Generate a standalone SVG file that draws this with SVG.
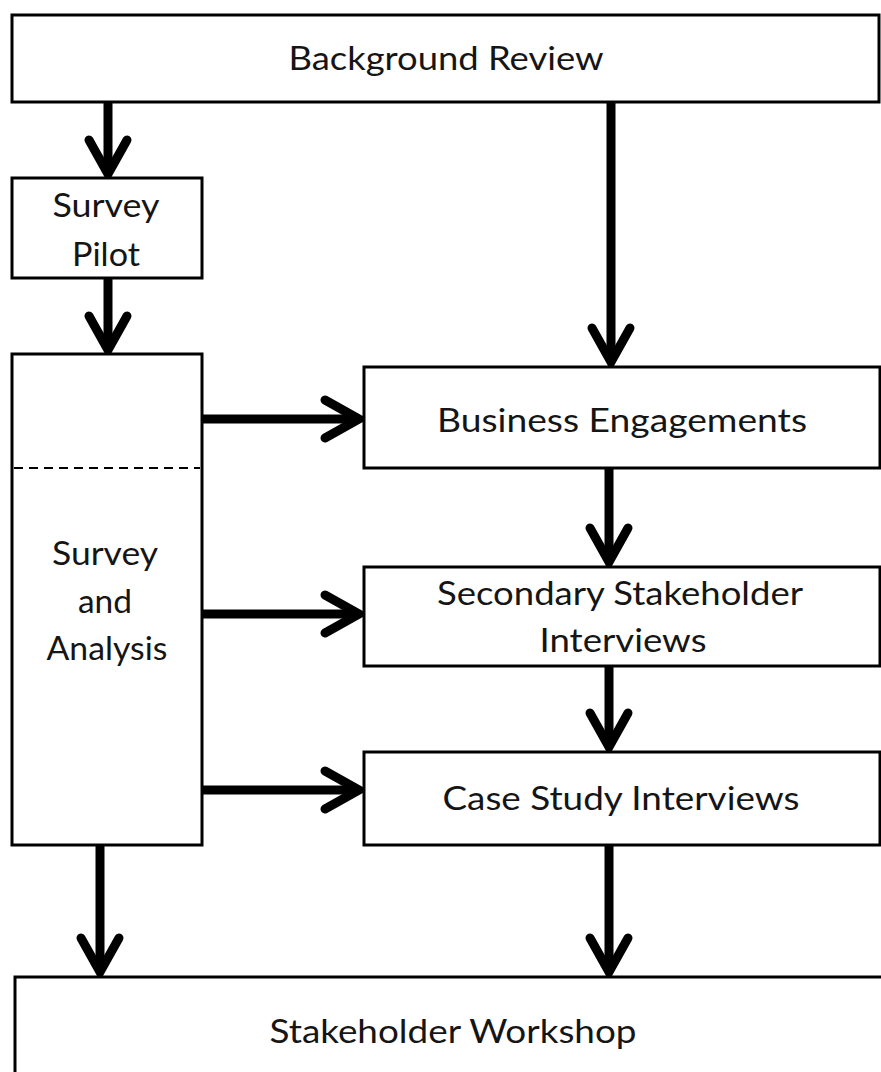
<svg xmlns="http://www.w3.org/2000/svg" width="881" height="1072" viewBox="0 0 881 1072">
<style>
.box{fill:#fff;stroke:#000;stroke-width:3}
.lbl{font-family:Lato,"Liberation Sans",sans-serif;font-size:33px;fill:#151515;text-anchor:middle}
.wire{stroke:#000;stroke-width:9;fill:none}
.dash{stroke:#000;stroke-width:2;stroke-dasharray:9 6}
</style>
<defs>
<marker id="chev" markerUnits="userSpaceOnUse" viewBox="-45 -30 60 60" refX="0" refY="0" markerWidth="60" markerHeight="60" orient="auto" overflow="visible">
<path d="M -34 -19 L 0 0 L -34 19" fill="none" stroke="#000" stroke-width="9" stroke-linecap="round" stroke-linejoin="miter"/>
</marker>
</defs>
<g id="connectors">
<line class="wire" x1="108" y1="102" x2="108" y2="174" marker-end="url(#chev)"/>
<line class="wire" x1="108" y1="278" x2="108" y2="350" marker-end="url(#chev)"/>
<line class="wire" x1="611" y1="102" x2="611" y2="362" marker-end="url(#chev)"/>
<line class="wire" x1="203" y1="419" x2="359" y2="419" marker-end="url(#chev)"/>
<line class="wire" x1="203" y1="614" x2="359" y2="614" marker-end="url(#chev)"/>
<line class="wire" x1="203" y1="790" x2="359" y2="790" marker-end="url(#chev)"/>
<line class="wire" x1="609" y1="468" x2="609" y2="562" marker-end="url(#chev)"/>
<line class="wire" x1="609" y1="666" x2="609" y2="747" marker-end="url(#chev)"/>
<line class="wire" x1="609" y1="845" x2="609" y2="972" marker-end="url(#chev)"/>
<line class="wire" x1="100" y1="845" x2="100" y2="972" marker-end="url(#chev)"/>
</g>
<g id="background-review">
<rect class="box" x="12" y="15" width="867" height="87"/>
<text class="lbl" x="446" y="70" textLength="315" lengthAdjust="spacingAndGlyphs">Background Review</text>
</g>
<g id="survey-pilot">
<rect class="box" x="12" y="178" width="190" height="100"/>
<text class="lbl" x="106" y="217" textLength="107" lengthAdjust="spacingAndGlyphs">Survey</text>
<text class="lbl" x="106" y="266" textLength="68" lengthAdjust="spacingAndGlyphs">Pilot</text>
</g>
<g id="survey-analysis">
<rect class="box" x="12" y="354" width="190" height="491"/>
<line class="dash" x1="14" y1="468" x2="200" y2="468"/>
<text class="lbl" x="105" y="565" textLength="106" lengthAdjust="spacingAndGlyphs">Survey</text>
<text class="lbl" x="105" y="613" textLength="54" lengthAdjust="spacingAndGlyphs">and</text>
<text class="lbl" x="107" y="660" textLength="121" lengthAdjust="spacingAndGlyphs">Analysis</text>
</g>
<g id="business-engagements">
<rect class="box" x="364" y="367" width="516" height="101"/>
<text class="lbl" x="622" y="432" textLength="370" lengthAdjust="spacingAndGlyphs">Business Engagements</text>
</g>
<g id="secondary-stakeholder-interviews">
<rect class="box" x="364" y="567" width="516" height="99"/>
<text class="lbl" x="620" y="605" textLength="366" lengthAdjust="spacingAndGlyphs">Secondary Stakeholder</text>
<text class="lbl" x="623" y="652" textLength="167" lengthAdjust="spacingAndGlyphs">Interviews</text>
</g>
<g id="case-study-interviews">
<rect class="box" x="364" y="752" width="516" height="93"/>
<text class="lbl" x="621" y="810" textLength="357" lengthAdjust="spacingAndGlyphs">Case Study Interviews</text>
</g>
<g id="stakeholder-workshop">
<rect class="box" x="15" y="977" width="880" height="120"/>
<text class="lbl" x="453" y="1043" textLength="367" lengthAdjust="spacingAndGlyphs">Stakeholder Workshop</text>
</g>
</svg>
